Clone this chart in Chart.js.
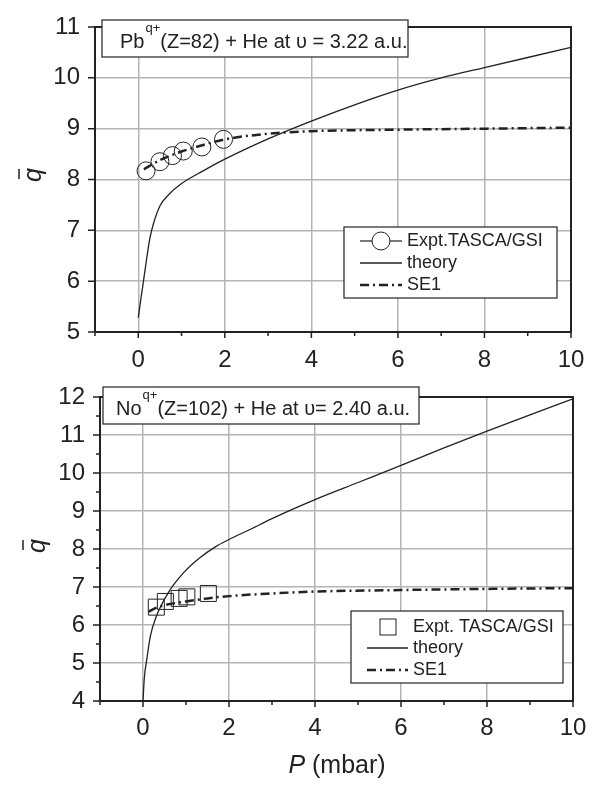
<!DOCTYPE html>
<html>
<head>
<meta charset="utf-8">
<script src="https://cdn.jsdelivr.net/npm/chart.js@4"></script>
<style>
  body { margin: 0; background: #fff; }
  #wrap { position: relative; width: 605px; height: 785px; }
  canvas { position: absolute; left: 0; }
  #chartPb { top: 0; }
  #chartNo { top: 370px; }
</style>
</head>
<body>
<div id="wrap">
  <canvas id="chartPb" width="605" height="370"></canvas>
  <canvas id="chartNo" width="605" height="415"></canvas>
</div>
<script>
// Pb(q+) + He, v = 3.22 a.u.
const pbExptP = [0.18, 0.5, 0.79, 1.04, 1.47, 1.97];
const pbExptQ = [8.17, 8.35, 8.47, 8.56, 8.64, 8.79];
const pbTheoryP = [0, 0.06, 0.12, 0.2, 0.27, 0.35, 0.5, 0.7, 1.0, 1.5, 2.0, 3.0, 4.0, 5.0, 6.0, 7.0, 8.0, 9.0, 10.0];
const pbTheoryQ = [5.28, 5.65, 6.0, 6.48, 6.85, 7.13, 7.48, 7.7, 7.92, 8.17, 8.4, 8.8, 9.15, 9.47, 9.76, 10.0, 10.2, 10.4, 10.6];
const pbSe1P = [0.13, 0.5, 1.0, 1.5, 2.0, 3.0, 4.0, 6.0, 8.0, 10.0];
const pbSe1Q = [8.2, 8.38, 8.55, 8.68, 8.79, 8.9, 8.95, 8.98, 9.0, 9.02];

// No(q+) + He, v = 2.40 a.u.
const noExptP = [0.31, 0.52, 0.84, 1.02, 1.52];
const noExptQ = [6.47, 6.62, 6.70, 6.74, 6.83];
const noTheoryP = [0, 0.03, 0.09, 0.17, 0.3, 0.6, 0.94, 1.3, 1.7, 2.0, 2.5, 3.0, 4.0, 5.0, 6.0, 7.0, 8.0, 9.0, 10.0];
const noTheoryQ = [4.0, 4.6, 5.11, 5.7, 6.2, 6.87, 7.37, 7.75, 8.07, 8.25, 8.52, 8.8, 9.3, 9.75, 10.2, 10.66, 11.1, 11.53, 11.95];
const noSe1P = [0.13, 0.3, 0.5, 1.0, 1.5, 2.0, 3.0, 4.0, 6.0, 8.0, 10.0];
const noSe1Q = [6.35, 6.45, 6.52, 6.62, 6.7, 6.76, 6.83, 6.88, 6.92, 6.95, 6.97];

const FONT = "'Liberation Sans', Arial, sans-serif";
const INK = "#222";
const GRID = "#b4b4b4";
const SE1_DASH = [9, 4, 2, 4];

Chart.defaults.font.family = FONT;
Chart.defaults.color = INK;

const pts = (xs, ys) => xs.map((x, i) => ({ x, y: ys[i] }));

function drawLegendLine(ctx, x0, x1, y, dash, width) {
  ctx.save();
  ctx.strokeStyle = INK;
  ctx.lineWidth = width;
  ctx.setLineDash(dash);
  ctx.beginPath();
  ctx.moveTo(x0, y);
  ctx.lineTo(x1, y);
  ctx.stroke();
  ctx.restore();
}

// frame, tick marks, axis titles, note box and legend
function decoPlugin(d) {
  return {
    id: "deco",
    afterDraw(chart) {
      const { ctx, chartArea: a, scales: { x, y } } = chart;
      ctx.save();

      ctx.strokeStyle = INK;
      ctx.lineWidth = 2;
      ctx.strokeRect(a.left, a.top, a.right - a.left, a.bottom - a.top);

      ctx.lineWidth = 1.5;
      ctx.beginPath();
      x.ticks.forEach(t => {
        const px = x.getPixelForValue(t.value);
        const len = t.value % 2 === 0 ? 6 : 4;
        ctx.moveTo(px, a.bottom);
        ctx.lineTo(px, a.bottom + len);
      });
      y.ticks.forEach(t => {
        const py = y.getPixelForValue(t.value);
        const len = Number.isInteger(t.value) ? 7 : 4;
        ctx.moveTo(a.left, py);
        ctx.lineTo(a.left - len, py);
      });
      ctx.stroke();

      // y title: q with overbar
      ctx.save();
      ctx.translate(d.qX, d.qY);
      ctx.rotate(-Math.PI / 2);
      ctx.fillStyle = INK;
      ctx.font = "italic 25px " + FONT;
      ctx.textAlign = "center";
      ctx.textBaseline = "alphabetic";
      ctx.fillText("q", 0, 0);
      ctx.lineWidth = 1.5;
      ctx.beginPath();
      ctx.moveTo(-4, -22);
      ctx.lineTo(6, -22);
      ctx.stroke();
      ctx.restore();

      // x title
      if (d.xTitle) {
        ctx.fillStyle = INK;
        ctx.textBaseline = "alphabetic";
        ctx.textAlign = "left";
        ctx.font = "italic 25px " + FONT;
        const wP = ctx.measureText("P").width;
        ctx.font = "25px " + FONT;
        const wRest = ctx.measureText(" (mbar)").width;
        const x0 = d.xTitle.cx - (wP + wRest) / 2;
        ctx.font = "italic 25px " + FONT;
        ctx.fillText("P", x0, d.xTitle.y);
        ctx.font = "25px " + FONT;
        ctx.fillText(" (mbar)", x0 + wP, d.xTitle.y);
      }

      // note box
      const n = d.note;
      ctx.fillStyle = "#fff";
      ctx.fillRect(n.x, n.y, n.w, n.h);
      ctx.strokeStyle = INK;
      ctx.lineWidth = 1.2;
      ctx.strokeRect(n.x, n.y, n.w, n.h);
      ctx.fillStyle = INK;
      ctx.textAlign = "left";
      ctx.textBaseline = "alphabetic";
      let tx = n.x + n.pad;
      ctx.font = "20px " + FONT;
      ctx.fillText(n.ion, tx, n.base);
      tx += ctx.measureText(n.ion).width + 1;
      ctx.font = "13px " + FONT;
      ctx.fillText("q+", tx, n.base - 16);
      tx += ctx.measureText("q+").width;
      ctx.font = "20px " + FONT;
      ctx.fillText(n.rest, tx, n.base);

      // legend
      const L = d.legend;
      ctx.fillStyle = "#fff";
      ctx.fillRect(L.x, L.y, L.w, L.h);
      ctx.strokeStyle = INK;
      ctx.lineWidth = 1.2;
      ctx.strokeRect(L.x, L.y, L.w, L.h);
      const [r0, r1, r2] = L.rows;
      const mx = (L.l0 + L.l1) / 2;
      if (L.marker === "circle") {
        drawLegendLine(ctx, L.l0, mx - 9, r0, [], 1.2);
        drawLegendLine(ctx, mx + 9, L.l1, r0, [], 1.2);
        ctx.beginPath();
        ctx.arc(mx, r0, 9, 0, Math.PI * 2);
        ctx.lineWidth = 1;
        ctx.strokeStyle = INK;
        ctx.stroke();
      } else {
        ctx.lineWidth = 1;
        ctx.strokeStyle = INK;
        ctx.strokeRect(L.sqX - 8, r0 - 8, 16, 16);
      }
      drawLegendLine(ctx, L.l0, L.l1, r1, [], 1.3);
      drawLegendLine(ctx, L.l0, L.l1, r2, SE1_DASH, 2.5);
      ctx.fillStyle = INK;
      ctx.font = "18px " + FONT;
      ctx.textBaseline = "middle";
      ctx.fillText(L.label, L.tx, r0);
      ctx.fillText("theory", L.tx, r1);
      ctx.fillText("SE1", L.tx, r2);

      ctx.restore();
    }
  };
}

function makeChart(id, c) {
  return new Chart(document.getElementById(id), {
    type: "scatter",
    data: {
      datasets: [
        {
          label: "theory",
          data: pts(c.theoryP, c.theoryQ),
          showLine: true,
          borderColor: INK,
          borderWidth: 1.3,
          pointRadius: 0,
          cubicInterpolationMode: "monotone"
        },
        {
          label: "SE1",
          data: pts(c.se1P, c.se1Q),
          showLine: true,
          borderColor: INK,
          borderWidth: 2.5,
          borderDash: SE1_DASH,
          pointRadius: 0,
          cubicInterpolationMode: "monotone"
        },
        {
          label: c.legend.label,
          data: pts(c.exptP, c.exptQ),
          showLine: false,
          pointStyle: c.pointStyle,
          pointRadius: c.pointRadius,
          pointBorderWidth: 1,
          pointBorderColor: INK,
          pointBackgroundColor: "rgba(0,0,0,0)"
        }
      ]
    },
    options: {
      responsive: false,
      animation: false,
      events: [],
      layout: { padding: c.padding },
      plugins: { legend: { display: false }, tooltip: { enabled: false } },
      scales: {
        x: {
          type: "linear",
          min: -1,
          max: 10,
          afterFit: s => { s.height = c.xHeight; },
          border: { display: false },
          grid: {
            drawTicks: false,
            lineWidth: 1.5,
            color: ctx => (ctx.tick && ctx.tick.value % 2 === 0 && ctx.tick.value > -1 && ctx.tick.value < 10) ? GRID : "rgba(0,0,0,0)"
          },
          ticks: {
            stepSize: 1,
            autoSkip: false,
            maxRotation: 0,
            padding: c.xPad,
            font: { size: 24 },
            color: INK,
            callback: v => (v % 2 === 0 ? v : "")
          }
        },
        y: {
          min: c.yMin,
          max: c.yMax,
          afterFit: s => { s.width = c.yWidth; },
          border: { display: false },
          grid: {
            drawTicks: false,
            lineWidth: 1.5,
            color: ctx => (ctx.tick && Number.isInteger(ctx.tick.value) && ctx.tick.value > c.yMin && ctx.tick.value < c.yMax) ? GRID : "rgba(0,0,0,0)"
          },
          ticks: {
            stepSize: c.yStep,
            autoSkip: false,
            padding: 15,
            font: { size: 24, lineHeight: 1 },
            color: INK,
            callback: v => (Number.isInteger(v) ? v : "")
          }
        }
      }
    },
    plugins: [decoPlugin(c)]
  });
}

makeChart("chartPb", {
  exptP: pbExptP, exptQ: pbExptQ,
  theoryP: pbTheoryP, theoryQ: pbTheoryQ,
  se1P: pbSe1P, se1Q: pbSe1Q,
  pointStyle: "circle", pointRadius: 9,
  yMin: 5, yMax: 11, yStep: 1,
  padding: { top: 14, right: 34, bottom: 0, left: 0 },
  xHeight: 38, yWidth: 95, xPad: 14,
  qX: 41, qY: 175,
  note: { x: 102, y: 20, w: 306, h: 37, pad: 18, base: 48, ion: "Pb", rest: "(Z=82) + He at \u03C5 = 3.22 a.u." },
  legend: { x: 344, y: 227, w: 213, h: 71, rows: [241, 263, 285], l0: 360, l1: 402, tx: 407, marker: "circle", label: "Expt.TASCA/GSI" }
});

makeChart("chartNo", {
  exptP: noExptP, exptQ: noExptQ,
  theoryP: noTheoryP, theoryQ: noTheoryQ,
  se1P: noSe1P, se1Q: noSe1Q,
  pointStyle: "rect", pointRadius: 11.3,
  yMin: 4, yMax: 12, yStep: 0.5,
  padding: { top: 12, right: 32, bottom: 0, left: 0 },
  xHeight: 84, yWidth: 100, xPad: 13,
  qX: 45, qY: 176,
  xTitle: { cx: 337, y: 403 },
  note: { x: 103, y: 17, w: 316, h: 37, pad: 13, base: 45, ion: "No", rest: "(Z=102) + He at \u03C5= 2.40 a.u." },
  legend: { x: 351, y: 241, w: 212, h: 72, rows: [257, 278, 300], l0: 367, l1: 408, tx: 413, sqX: 388, marker: "square", label: "Expt. TASCA/GSI" }
});
</script>
</body>
</html>
